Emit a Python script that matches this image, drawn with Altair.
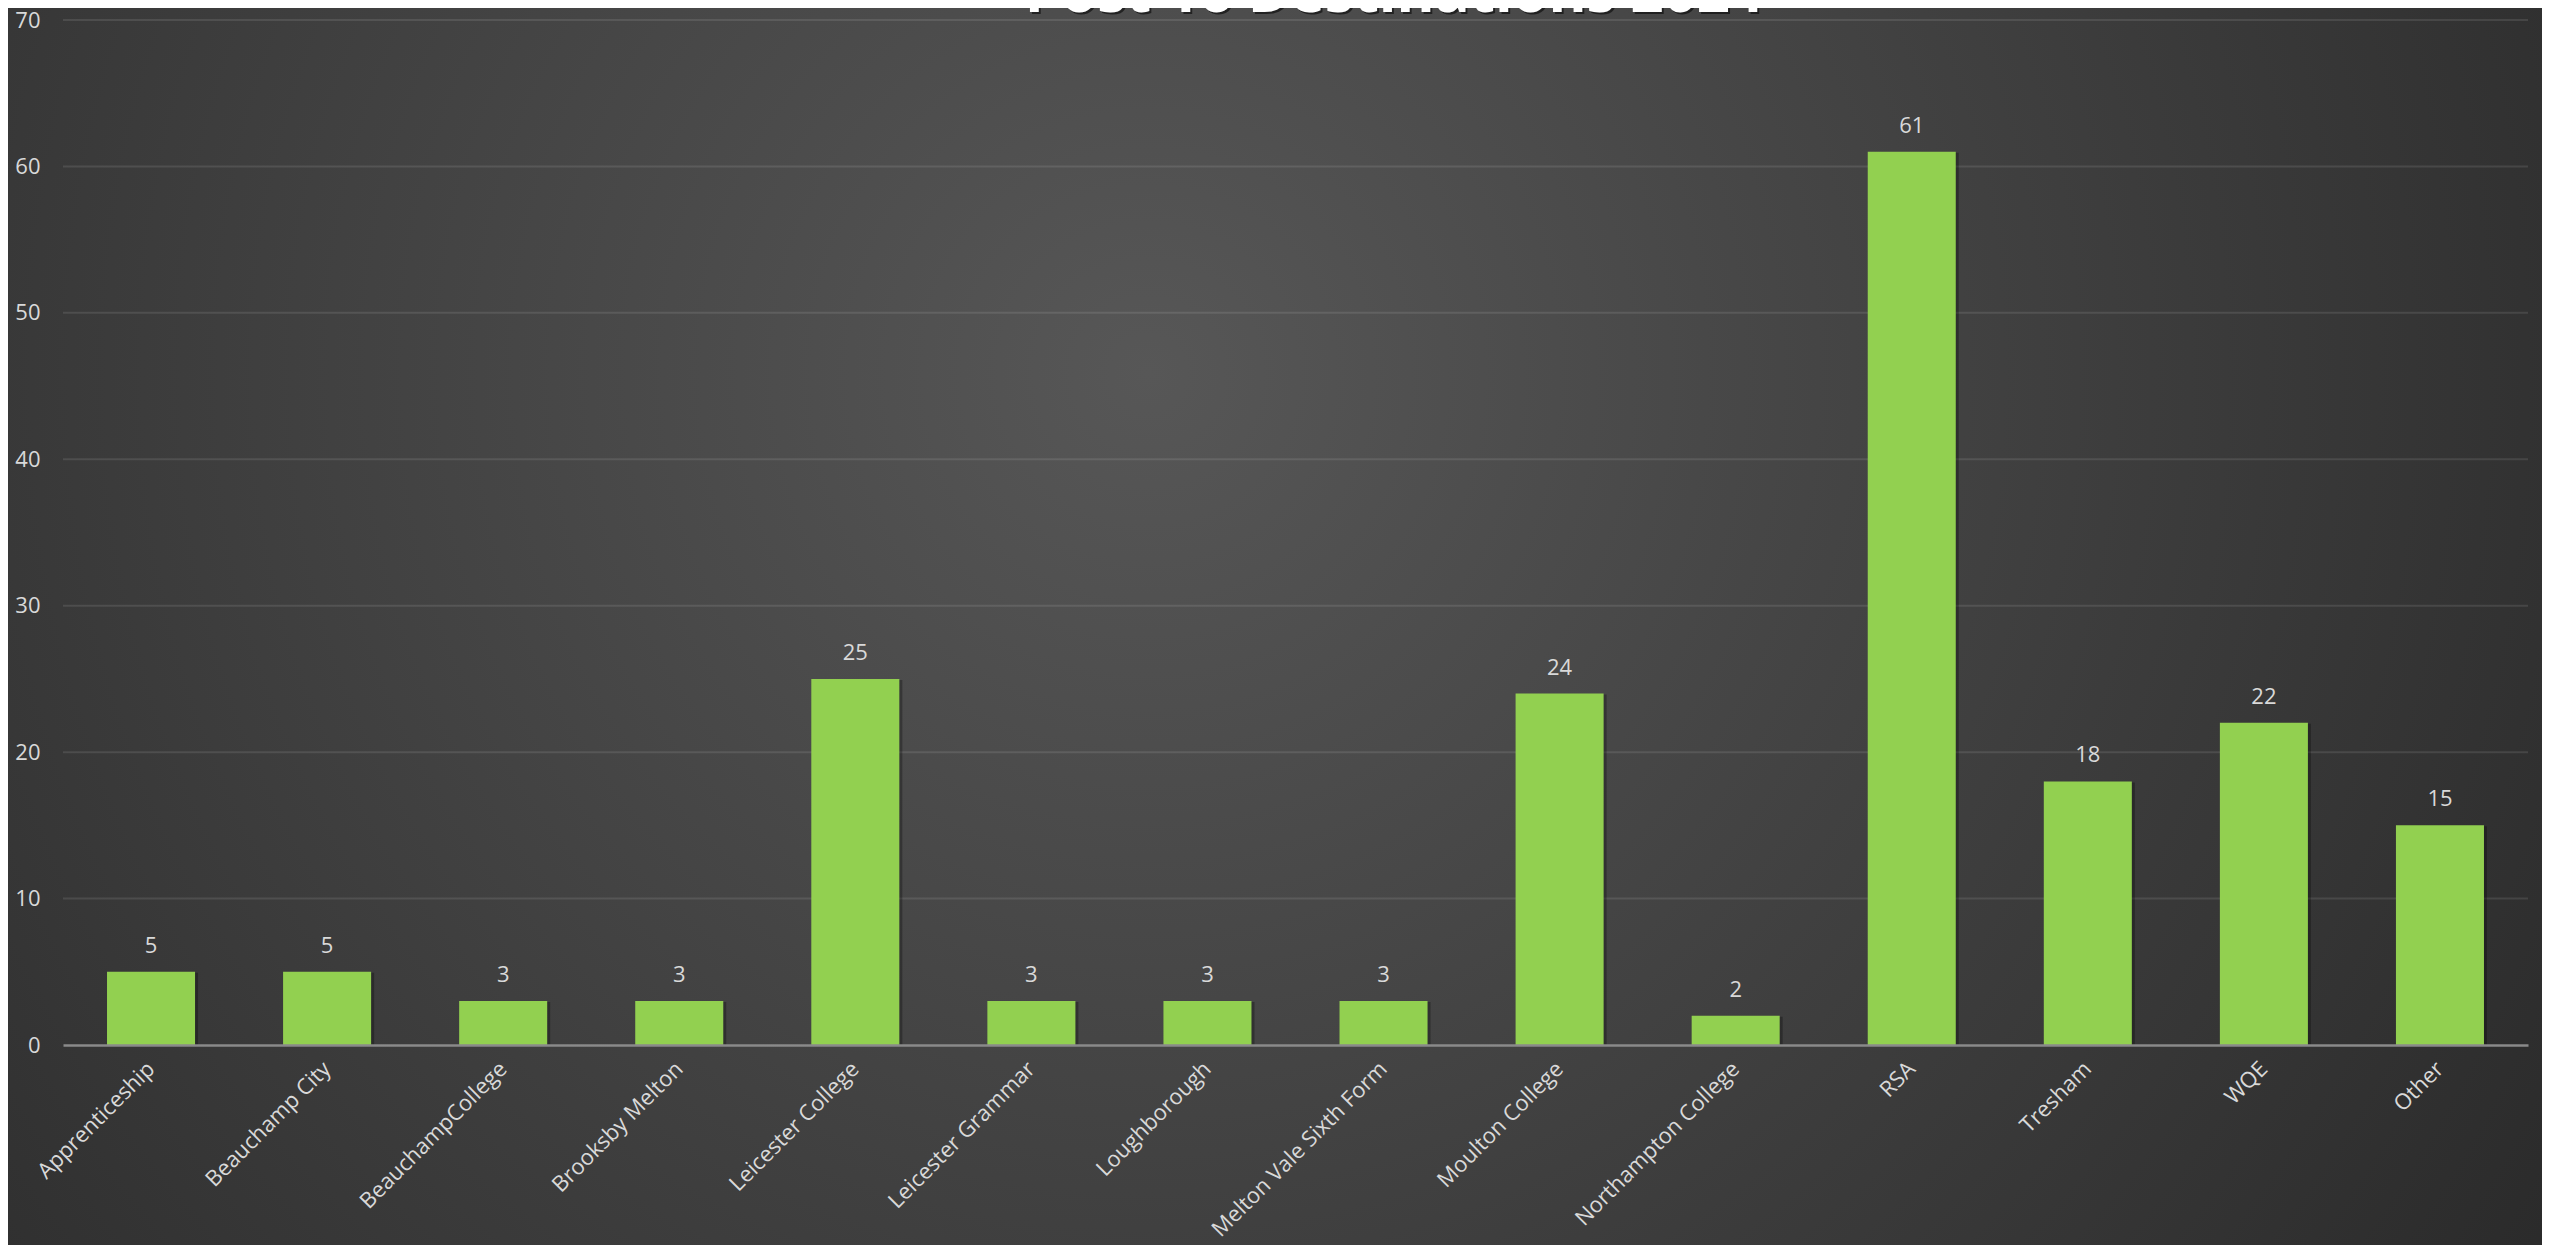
import altair as alt
import pandas as pd

categories = ["Apprenticeship", "Beauchamp City", "BeauchampCollege", "Brooksby Melton",
              "Leicester College", "Leicester Grammar", "Loughborough", "Melton Vale Sixth Form",
              "Moulton College", "Northampton College", "RSA", "Tresham", "WQE", "Other"]
values = [5, 5, 3, 3, 25, 3, 3, 3, 24, 2, 61, 18, 22, 15]
y_ticks = [0, 10, 20, 30, 40, 50, 60, 70]
title_text = "Post 16 Destinations 2024"

df = pd.DataFrame({"dest": categories, "count": values})
grid_df = pd.DataFrame({"count": y_ticks[1:]})
one = pd.DataFrame({"t": [title_text]})

# layout (svg pixels)
W, H = 2465, 1025
PL, PT = 55, 12
TW, TH = 2534, 1237
PR, PB = TW - PL - W, TH - PT - H

FONT = "Open Sans"
LABEL = "#d9d9d9"

xs = alt.X("dest:N", sort=categories, title=None,
           scale=alt.Scale(paddingInner=0.5, paddingOuter=0.25),
           axis=alt.Axis(labelAngle=-45, labelAlign="right", labelBaseline="middle",
                         labelPadding=20, labelFontSize=22, labelColor=LABEL, labelFont=FONT,
                         labelLimit=0, ticks=False, grid=False, domainColor="#8a8a8a",
                         domainWidth=2.5, zindex=2))
ys = alt.Y("count:Q", title=None,
           scale=alt.Scale(domain=[0, 70], nice=False),
           axis=alt.Axis(values=y_ticks, ticks=False, domain=False, grid=False,
                         labelFontSize=22, labelColor=LABEL, labelFont=FONT,
                         labelPadding=23, zindex=2))

bg = alt.Chart(pd.DataFrame({"a": [0]})).mark_rect(
    fill=alt.RadialGradient(
        gradient="radial", x1=0.45, y1=0.40, r1=0.0, x2=0.45, y2=0.40, r2=0.72,
        stops=[alt.GradientStop(color="#575757", offset=0),
               alt.GradientStop(color="#3c3c3c", offset=0.55),
               alt.GradientStop(color="#262626", offset=1)]
    )
).encode(x=alt.value(-PL), x2=alt.value(W + PR), y=alt.value(-PT), y2=alt.value(H + PB))

grid = alt.Chart(grid_df).mark_rule(color="#ffffff", opacity=0.1, strokeWidth=2).encode(
    y=ys, x=alt.value(0), x2=alt.value(W))

shadow = alt.Chart(df).mark_bar(color="#000000", opacity=0.28, xOffset=3, yOffset=1).encode(x=xs, y=ys)
bars = alt.Chart(df).mark_bar(color="#92D050").encode(x=xs, y=ys)
labels = alt.Chart(df).mark_text(dy=-19, baseline="alphabetic", fontSize=22, font=FONT,
                                 color=LABEL).encode(x=xs, y=ys, text="count:Q")

title_shadow = alt.Chart(one).mark_text(fontSize=58, fontWeight="bold", font=FONT, color="#111111",
                                        opacity=0.7, align="center", baseline="alphabetic").encode(
    x=alt.value(1333), y=alt.value(-6), text="t:N")
title = alt.Chart(one).mark_text(fontSize=58, fontWeight="bold", font=FONT, color="#ffffff",
                                 align="center", baseline="alphabetic").encode(
    x=alt.value(1331), y=alt.value(-8), text="t:N")

chart = alt.layer(bg, grid, shadow, bars, labels, title_shadow, title).properties(
    width=W, height=H,
    autosize=alt.AutoSizeParams(type="none"),
    padding={"left": PL, "top": PT, "right": PR, "bottom": PB},
    background="#2b2b2b",
).configure_view(stroke=None)

chart.save("out.html", embed_options={"renderer": "svg", "actions": False})
